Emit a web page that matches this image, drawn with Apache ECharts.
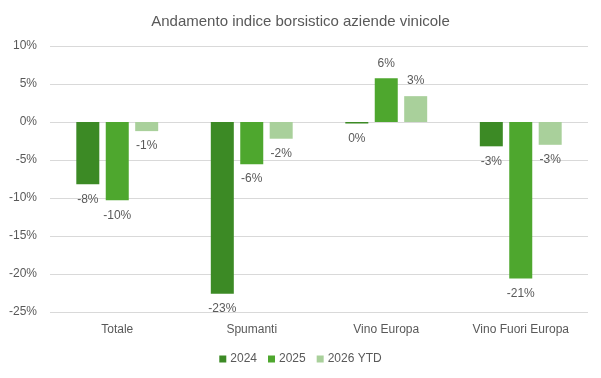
<!DOCTYPE html>
<html>
<head>
<meta charset="utf-8">
<script src="https://cdn.jsdelivr.net/npm/echarts@6/dist/echarts.min.js"></script>
<style>
html,body{margin:0;padding:0;background:#fff;}
#chart{width:601px;height:378px;}
</style>
</head>
<body>
<div id="chart"></div>
<script>
var categories = ['Totale', 'Spumanti', 'Vino Europa', 'Vino Fuori Europa'];
var seriesNames = ['2024', '2025', '2026 YTD'];
var values2024 = [-8.2, -22.6, -0.2, -3.2];
var values2025 = [-10.3, -5.55, 5.75, -20.6];
var values2026 = [-1.2, -2.2, 3.4, -3.0];
var colors = ['#3C8A25', '#4EA72E', '#A9D09B'];
var yTicks = [10, 5, 0, -5, -10, -15, -20, -25];

var FONT = '"Liberation Sans Narrow", "Liberation Sans", sans-serif';
var TXT = '#595959';

var allValues = [values2024, values2025, values2026];
var chart = echarts.init(document.getElementById('chart'), null, {renderer: 'canvas'});

var series = allValues.map(function (vals, i) {
  return {
    name: seriesNames[i],
    type: 'bar',
    barWidth: 23,
    barGap: '28%',
    itemStyle: {color: colors[i]},
    data: vals.map(function (v) {
      return {
        value: v,
        label: {position: v >= 0 ? 'top' : 'bottom'}
      };
    }),
    label: {
      show: true,
      distance: 9,
      color: TXT,
      fontFamily: FONT,
      fontSize: 12,
      formatter: function (p) { return Math.round(p.value) + '%'; }
    }
  };
});

chart.setOption({
  animation: false,
  title: {
    text: 'Andamento indice borsistico aziende vinicole',
    left: 'center',
    top: 9,
    textStyle: {color: TXT, fontFamily: FONT, fontSize: 15, fontWeight: 'normal'}
  },
  legend: {
    data: seriesNames,
    left: 'center',
    top: 348,
    icon: 'rect',
    itemWidth: 7,
    itemHeight: 7,
    itemGap: 11,
    textStyle: {color: TXT, fontFamily: FONT, fontSize: 12, padding: [0, 0, 0, -1]}
  },
  grid: {left: 50, right: 13, top: 46, bottom: 66},
  xAxis: {
    type: 'category',
    data: categories,
    position: 'bottom',
    axisLine: {show: false},
    axisTick: {show: false},
    axisLabel: {color: TXT, fontFamily: FONT, fontSize: 12, margin: 12}
  },
  yAxis: {
    type: 'value',
    min: yTicks[yTicks.length - 1],
    max: yTicks[0],
    interval: 5,
    axisLine: {show: false},
    axisTick: {show: false},
    splitLine: {lineStyle: {color: '#D9D9D9', width: 1}},
    axisLabel: {color: TXT, fontFamily: FONT, fontSize: 12, margin: 13, formatter: '{value}%'}
  },
  series: series
});
</script>
</body>
</html>
